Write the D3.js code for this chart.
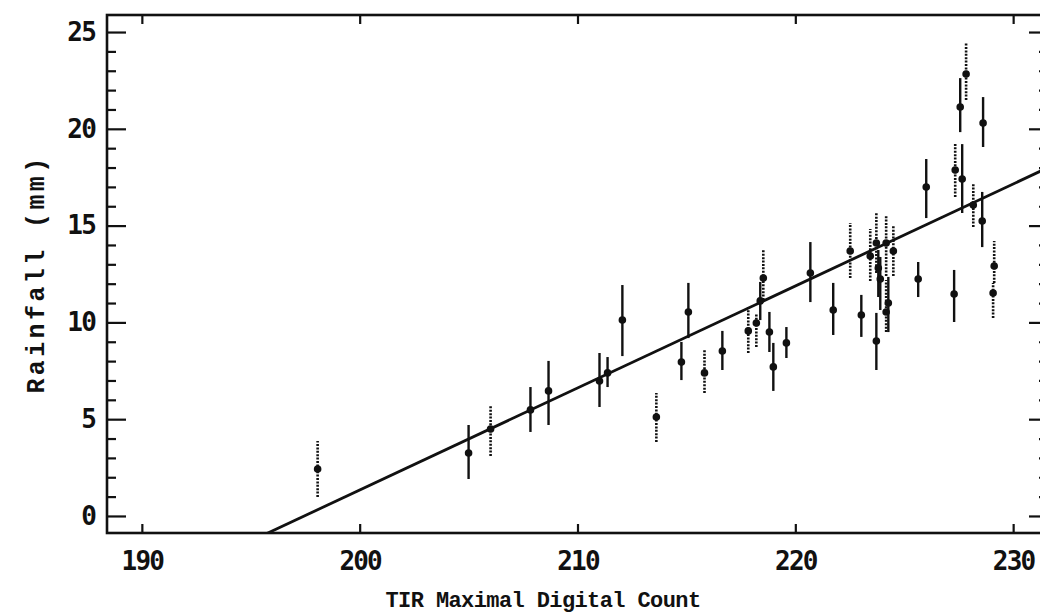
<!DOCTYPE html>
<html>
<head>
<meta charset="utf-8">
<script src="https://cdn.jsdelivr.net/npm/d3@7"></script>
<style>
  html, body { margin: 0; padding: 0; background: #fff; }
  svg { display: block; }
  .tick text { font-family: "DejaVu Sans Mono", monospace; font-weight: bold; font-size: 26px; fill: #111; letter-spacing: -1.8px; }
</style>
</head>
<body>
<svg id="chart" width="1040" height="614"></svg>
<script>
// ---- data ----
// points whose error bar is drawn solid
const solidX  = [205.0, 207.84, 208.67, 211.01, 211.38, 212.06, 214.77, 215.09, 216.65, 218.39, 218.81, 218.99, 219.59, 220.69, 221.74, 223.03, 223.72, 223.81, 223.90, 224.27, 225.64, 226.01, 227.29, 227.57, 227.66, 228.62, 228.58];
const solidY  = [3.25, 5.48, 6.46, 6.97, 7.39, 10.12, 7.95, 10.54, 8.52, 11.11, 9.50, 7.70, 8.94, 12.55, 10.64, 10.38, 9.04, 12.81, 12.24, 11.00, 12.24, 16.99, 11.47, 21.13, 17.41, 20.30, 15.24];
const solidLo = [1.91, 4.34, 4.70, 5.63, 6.66, 8.26, 7.02, 9.19, 7.54, 10.12, 8.47, 6.46, 8.16, 11.05, 9.35, 9.25, 7.54, 11.31, 10.64, 9.50, 11.31, 15.39, 10.02, 19.83, 15.65, 19.06, 13.89];
const solidHi = [4.70, 6.66, 8.01, 8.42, 8.21, 11.93, 8.99, 12.04, 9.56, 12.09, 10.54, 8.94, 9.76, 14.15, 12.04, 11.42, 10.49, 13.74, 13.38, 12.35, 13.12, 18.44, 12.71, 22.62, 19.21, 21.64, 16.74];
// points whose error bar is drawn dotted
const dotX  = [198.07, 206.01, 213.62, 215.83, 217.84, 218.21, 218.53, 222.52, 223.44, 223.72, 224.17, 224.17, 224.50, 227.34, 227.84, 228.17, 229.13, 229.08];
const dotY  = [2.43, 4.49, 5.11, 7.39, 9.56, 9.97, 12.29, 13.69, 13.43, 14.10, 14.10, 10.54, 13.69, 17.87, 22.83, 16.06, 12.91, 11.52];
const dotLo = [0.98, 3.10, 3.82, 6.35, 8.42, 8.73, 11.16, 12.29, 12.14, 12.55, 12.40, 9.50, 12.40, 16.48, 21.49, 14.93, 12.03, 10.23];
const dotHi = [3.87, 5.73, 6.35, 8.57, 10.80, 10.49, 13.74, 15.13, 14.82, 15.70, 15.55, 12.19, 14.98, 19.22, 24.43, 17.20, 14.20, 12.03];
// fitted regression line: rainfall = slope * count + intercept
const fitSlope = 0.527;
const fitIntercept = -104.06;
// axes
const xTicks = [190, 200, 210, 220, 230];
const yTicks = [0, 5, 10, 15, 20, 25];
const xDomain = [188.4, 231.6];
const yDomain = [-0.88, 25.88];
const xTitle = "TIR Maximal Digital Count";
const yTitle = "Rainfall (mm)";

// ---- layout ----
const L = 107, R = 1048, T = 15, B = 533;
const svg = d3.select("#chart");
const x = d3.scaleLinear().domain(xDomain).range([L, R]);
const y = d3.scaleLinear().domain(yDomain).range([B, T]);

const yMinor = d3.range(0, 26).filter(v => v % 5 !== 0);

function clean(g) { g.select(".domain").remove(); g.selectAll(".tick line").attr("stroke", "#111").attr("stroke-width", 2.2); }

// left axis
svg.append("g").attr("transform", `translate(${L},0)`)
  .call(d3.axisLeft(y).tickValues(yTicks).tickSize(-19).tickPadding(12).tickFormat(d3.format("d"))).call(clean);
svg.append("g").attr("transform", `translate(${L},0)`)
  .call(d3.axisLeft(y).tickValues(yMinor).tickSize(-9).tickFormat("")).call(clean);
// right axis
svg.append("g").attr("transform", `translate(${R},0)`)
  .call(d3.axisRight(y).tickValues(yTicks).tickSize(-19).tickFormat("")).call(clean);
svg.append("g").attr("transform", `translate(${R},0)`)
  .call(d3.axisRight(y).tickValues(yMinor).tickSize(-9).tickFormat("")).call(clean);
// bottom axis
svg.append("g").attr("transform", `translate(0,${B})`)
  .call(d3.axisBottom(x).tickValues(xTicks).tickSize(-9).tickPadding(19).tickFormat(d3.format("d"))).call(clean);
// top axis
svg.append("g").attr("transform", `translate(0,${T})`)
  .call(d3.axisTop(x).tickValues(xTicks).tickSize(-9).tickFormat("")).call(clean);

// frame
svg.append("rect").attr("x", L).attr("y", T).attr("width", R - L).attr("height", B - T)
  .attr("fill", "none").attr("stroke", "#111").attr("stroke-width", 2.6);

// clip
svg.append("clipPath").attr("id", "plotclip").append("rect")
  .attr("x", L).attr("y", T).attr("width", R - L).attr("height", B - T);
const plot = svg.append("g").attr("clip-path", "url(#plotclip)");

// regression line
const lineX = xDomain;
plot.append("line")
  .attr("x1", x(lineX[0])).attr("y1", y(fitSlope * lineX[0] + fitIntercept))
  .attr("x2", x(lineX[1])).attr("y2", y(fitSlope * lineX[1] + fitIntercept))
  .attr("stroke", "#111").attr("stroke-width", 2.8);

function drawSeries(xs, ys, lo, hi, dotted) {
  const data = xs.map((v, i) => ({ x: v, y: ys[i], lo: lo[i], hi: hi[i] }));
  const g = plot.append("g");
  g.selectAll("line.err").data(data).enter().append("line")
    .attr("class", "err")
    .attr("x1", d => x(d.x)).attr("x2", d => x(d.x))
    .attr("y1", d => y(d.lo)).attr("y2", d => y(d.hi))
    .attr("stroke", "#111").attr("stroke-width", dotted ? 2.6 : 2.4)
    .attr("stroke-dasharray", dotted ? "2,1.4" : null);
  g.selectAll("circle").data(data).enter().append("circle")
    .attr("cx", d => x(d.x)).attr("cy", d => y(d.y)).attr("r", 3.8)
    .attr("fill", "#111");
}
drawSeries(solidX, solidY, solidLo, solidHi, false);
drawSeries(dotX, dotY, dotLo, dotHi, true);

// axis titles
svg.append("text").attr("x", 543).attr("y", 607).attr("text-anchor", "middle")
  .style("font-family", "'Liberation Mono', monospace").style("font-weight", "bold")
  .style("font-size", "22px").style("letter-spacing", "-0.6px").attr("fill", "#111")
  .text(xTitle);
svg.append("text").attr("transform", `translate(44,${(T + B) / 2}) rotate(-90)`).attr("text-anchor", "middle")
  .style("font-family", "'Liberation Mono', monospace").style("font-weight", "bold")
  .style("font-size", "25px").style("letter-spacing", "3.4px").attr("fill", "#111")
  .text(yTitle);
</script>
</body>
</html>
